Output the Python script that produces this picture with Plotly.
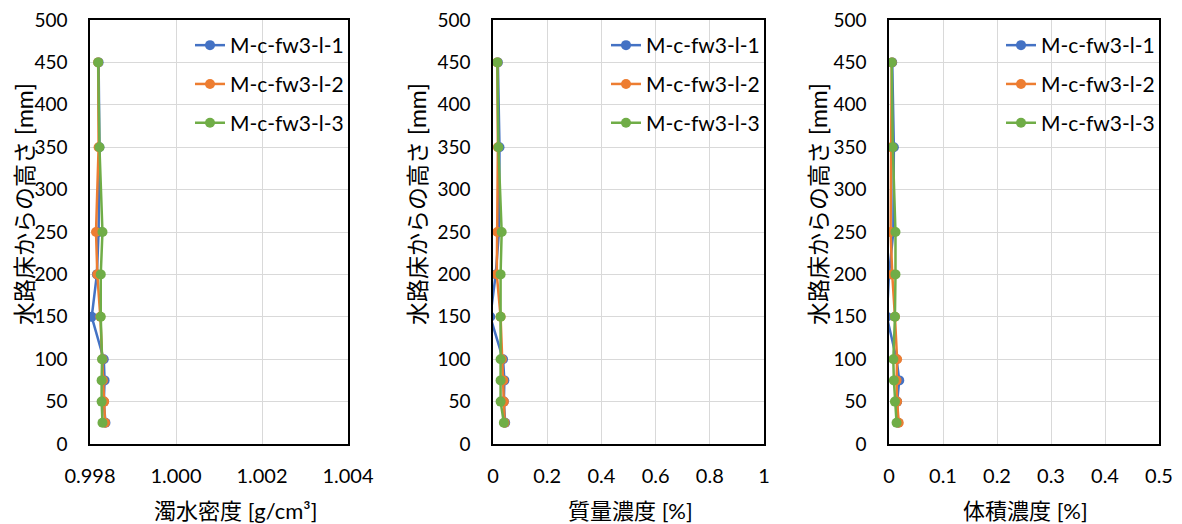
import plotly.graph_objects as go

heights = [25, 50, 75, 100, 150, 200, 250, 350, 450]
series_names = ["M-c-fw3-l-1", "M-c-fw3-l-2", "M-c-fw3-l-3"]
colors = ["#4472C4", "#ED7D31", "#70AD47"]

density_1 = [0.99836, 0.99832, 0.99834, 0.99832, 0.99804, 0.99816, 0.99820, 0.99822, 0.99820]
density_2 = [0.99835, 0.99833, 0.99830, 0.99829, 0.99824, 0.99817, 0.99814, 0.99820, 0.99819]
density_3 = [0.99829, 0.99827, 0.99827, 0.99828, 0.99825, 0.99825, 0.99829, 0.99822, 0.99819]

mass_1 = [0.045, 0.040, 0.042, 0.037, -0.010, 0.010, 0.022, 0.024, 0.018]
mass_2 = [0.043, 0.040, 0.038, 0.033, 0.028, 0.014, 0.016, 0.018, 0.016]
mass_3 = [0.040, 0.028, 0.028, 0.028, 0.028, 0.028, 0.032, 0.020, 0.016]

vol_1 = [0.017, 0.015, 0.019, 0.014, -0.004, 0.000, 0.008, 0.009, 0.006]
vol_2 = [0.018, 0.015, 0.014, 0.015, 0.011, 0.006, 0.003, 0.004, 0.005]
vol_3 = [0.014, 0.011, 0.009, 0.008, 0.011, 0.012, 0.012, 0.007, 0.005]

x_titles = ["濁水密度 [g/cm³]", "質量濃度 [%]", "体積濃度 [%]"]
y_title = "水路床からの高さ [mm]"
x_ranges = [[0.998, 1.004], [0, 1], [0, 0.5]]
x_dticks = [0.002, 0.2, 0.1]
x_formats = [".3f", "", ""]

# page offset of the plot div (default body margin)
OFF = 8
W, H = 1182 - OFF, 524 - OFF
plot_px = [(90, 348), (493, 764), (889, 1159)]   # page pixels
ytitle_left_px = [8, 401, 802]                    # page pixels (left edge of title box)
xtitle_px = [235, 630, 1025]                      # page pixels (center x)
top_px, bottom_px = 20, 444


def px_x(v):
    return (v - OFF) / W


def px_y(v):
    return 1 - (v - OFF) / H


FONT = "Lato, 'Noto Sans CJK JP', sans-serif"

panels = [
    [density_1, density_2, density_3],
    [mass_1, mass_2, mass_3],
    [vol_1, vol_2, vol_3],
]

fig = go.Figure()
for p, data in enumerate(panels):
    xa = "x" if p == 0 else f"x{p+1}"
    ya = "y" if p == 0 else f"y{p+1}"
    lg = "legend" if p == 0 else f"legend{p+1}"
    for s, vals in enumerate(data):
        fig.add_trace(go.Scatter(
            x=vals, y=heights, mode="lines+markers",
            name=series_names[s],
            line=dict(color=colors[s], width=2.5),
            marker=dict(color=colors[s], size=10),
            xaxis=xa, yaxis=ya, legend=lg,
            legendgroup=f"g{p}_{s}",
        ))

layout = dict(
    width=W, height=H,
    margin=dict(l=0, r=0, t=0, b=0, autoexpand=False),
    paper_bgcolor="white", plot_bgcolor="white",
    font=dict(family=FONT, size=20, color="#000000"),
    showlegend=True,
)
ydom = [px_y(bottom_px), px_y(top_px)]
shapes = []
annotations = []
for p in range(3):
    x0, x1 = plot_px[p]
    xk = "xaxis" if p == 0 else f"xaxis{p+1}"
    yk = "yaxis" if p == 0 else f"yaxis{p+1}"
    lk = "legend" if p == 0 else f"legend{p+1}"
    yref = "y" if p == 0 else f"y{p+1}"
    xref = "x" if p == 0 else f"x{p+1}"
    layout[xk] = dict(
        domain=[px_x(x0), px_x(x1)], anchor=yref, automargin=False,
        range=x_ranges[p], dtick=x_dticks[p], tick0=x_ranges[p][0],
        tickformat=x_formats[p],
        showgrid=True, gridcolor="#D9D9D9", gridwidth=1,
        showline=True, linecolor="black", linewidth=1.5, mirror=True,
        zeroline=False, ticks="", ticklabelstandoff=13,
        ticklabeloverflow="allow",
        tickfont=dict(size=20),
    )
    layout[yk] = dict(
        domain=ydom, anchor=xref, automargin=False,
        range=[0, 500], dtick=50,
        showgrid=True, gridcolor="#D9D9D9", gridwidth=1,
        showline=True, linecolor="black", linewidth=1.5, mirror=True,
        zeroline=False, ticks="", ticklabelstandoff=17,
        ticklabeloverflow="allow",
        tickfont=dict(size=19),
    )
    annotations.append(dict(
        text=y_title, textangle=-90, showarrow=False,
        xref="paper", yref="paper",
        x=px_x(ytitle_left_px[p]), y=px_y(204),
        xanchor="left", yanchor="middle",
        font=dict(size=23, family=FONT, color="#000000"),
    ))
    annotations.append(dict(
        text=x_titles[p], showarrow=False,
        xref="paper", yref="paper",
        x=px_x(xtitle_px[p]), y=px_y(510),
        xanchor="center", yanchor="middle",
        font=dict(size=22, family=FONT, color="#000000"),
    ))
    layout[lk] = dict(
        x=px_x(x1 + 1), xanchor="right",
        y=px_y(25), yanchor="top",
        bgcolor="rgba(0,0,0,0)", borderwidth=0,
        font=dict(size=21, family=FONT),
        tracegroupgap=8.5,
    )
    # white legend backdrop above gridlines, below traces
    shapes.append(dict(
        type="rect", xref="paper", yref="paper", layer="between",
        x0=px_x(x1 - 158), x1=px_x(x1 - 1),
        y0=px_y(145), y1=px_y(26),
        fillcolor="white", line=dict(width=0),
    ))
layout["shapes"] = shapes
layout["annotations"] = annotations

fig.update_layout(**layout)
fig.write_html("out.html")
